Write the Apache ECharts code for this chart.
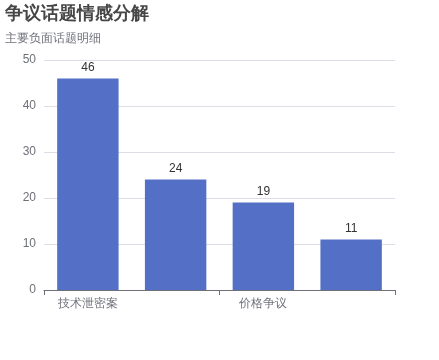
<!DOCTYPE html>
<html>
<head>
<meta charset="utf-8">
<script src="https://cdn.jsdelivr.net/npm/echarts@6/dist/echarts.min.js"></script>
<style>html,body{margin:0;padding:0;background:#fff}#c{width:439px;height:360px}</style>
</head>
<body>
<div id="c"></div>
<script>
const categories = ['技术泄密案', '数据隐私安全争议', '价格争议', '售后服务质量投诉'];
const values = [46, 24, 19, 11];
const yTicks = { min: 0, max: 50, interval: 10 };

const chart = echarts.init(document.getElementById('c'));
chart.setOption({
  animation: false,
  title: {
    text: '争议话题情感分解',
    subtext: '主要负面话题明细',
    left: 0,
    top: 0,
    textStyle: { fontSize: 18, fontWeight: 'bold', color: '#464646' },
    subtextStyle: { fontSize: 12, color: '#6E7079' },
    itemGap: 10
  },
  grid: { left: 44, right: 44, top: 60, bottom: 70 },
  xAxis: {
    type: 'category',
    data: categories,
    axisLabel: { interval: 1, fontSize: 12, color: '#6E7079' },
    axisTick: { show: true, interval: 1, alignWithLabel: false },
    axisLine: { lineStyle: { color: '#6E7079' } }
  },
  yAxis: {
    type: 'value',
    min: yTicks.min,
    max: yTicks.max,
    interval: yTicks.interval,
    axisLabel: { color: '#6E7079' }
  },
  series: [{
    type: 'bar',
    data: values,
    barWidth: '70%',
    itemStyle: { color: '#5470c6' },
    label: { show: true, position: 'top', color: '#333', fontSize: 12 }
  }]
});
</script>
</body>
</html>
